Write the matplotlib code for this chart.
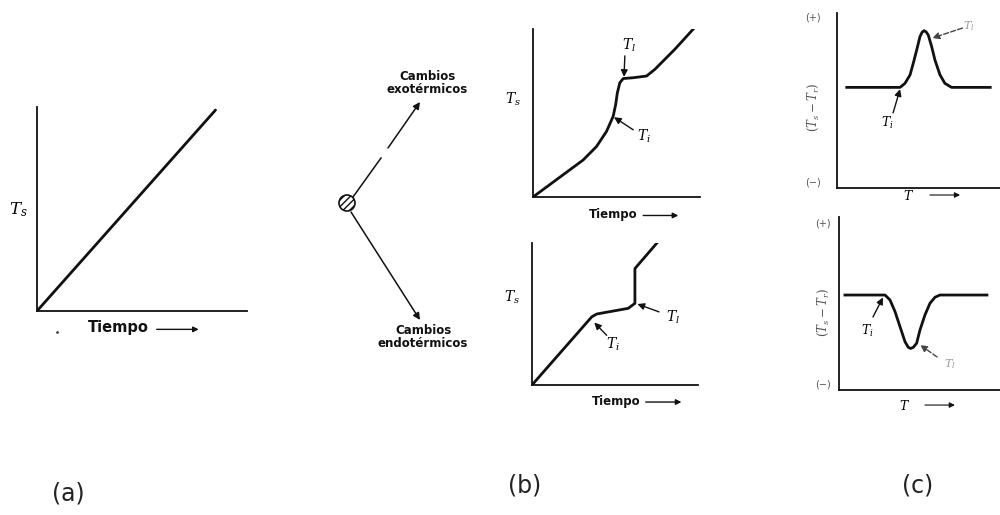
import matplotlib
matplotlib.use("Agg")
import matplotlib.pyplot as plt
from matplotlib.patches import Circle

plt.rcParams['mathtext.fontset'] = 'dejavuserif'

# ---- data (each panel uses 0-10 units on both axes) ----
# (a) constant heating, no transition
time_a = [0, 8.5]
temp_a = [0, 9.85]

# (b) top: exothermic change
time_b1 = [0, 1.5, 3.0, 3.8, 4.4, 4.8, 4.95, 5.05, 5.2, 5.4, 6.0, 6.8, 7.3, 8.5, 9.6]
temp_b1 = [0, 1.1, 2.2, 3.0, 3.9, 4.8, 5.5, 6.2, 6.8, 7.05, 7.1, 7.2, 7.6, 8.8, 10.0]

# (b) bottom: endothermic change
time_b2 = [0, 3.6, 3.9, 5.8, 6.2, 6.2, 7.6]
temp_b2 = [0, 4.8, 5.0, 5.4, 5.75, 8.2, 10.1]

# (c) top: DTA exothermic peak
temp_c1 = [0.6, 3.87, 4.17, 4.48, 4.68, 4.89, 5.09, 5.22, 5.34, 5.47, 5.60, 5.81, 6.01, 6.32, 6.62, 7.03, 9.4]
dT_c1 = [5.75, 5.75, 5.98, 6.46, 7.13, 7.89, 8.65, 8.9, 8.99, 8.92, 8.74, 8.07, 7.31, 6.46, 5.98, 5.75, 5.75]

# (c) bottom: DTA endothermic dip
temp_c2 = [0.37, 2.86, 3.17, 3.48, 3.79, 4.10, 4.30, 4.45, 4.62, 4.82, 5.03, 5.34, 5.65, 5.96, 6.27, 9.19]
dT_c2 = [5.49, 5.49, 5.20, 4.53, 3.66, 2.79, 2.47, 2.40, 2.47, 2.70, 3.47, 4.34, 5.01, 5.36, 5.49, 5.49]

W, H = 1000, 515
fig = plt.figure(figsize=(10, 5.15), dpi=100)
fig.patch.set_facecolor('white')


def panel(x0, y0, x1, y1):
    # box given in pixels of the picture (y downwards)
    ax = fig.add_axes([x0 / W, (H - y1) / H, (x1 - x0) / W, (y1 - y0) / H])
    ax.set_xlim(0, 10)
    ax.set_ylim(0, 10)
    for s in ['top', 'right']:
        ax.spines[s].set_visible(False)
    for s in ['left', 'bottom']:
        ax.spines[s].set_linewidth(1.3)
        ax.spines[s].set_color('#111111')
    ax.set_xticks([])
    ax.set_yticks([])
    ax.patch.set_alpha(0)
    return ax


def axis_arrow(ax, x0, x1, y, lw=1.0):
    ax.annotate('', xy=(x1, y), xytext=(x0, y), annotation_clip=False,
                arrowprops=dict(arrowstyle='-|>', lw=lw, color='#111111',
                                mutation_scale=8, shrinkA=0, shrinkB=0))


def pointer(ax, start, end, ls='-', color='#111111'):
    ax.annotate('', xy=end, xytext=start, annotation_clip=False,
                arrowprops=dict(arrowstyle='-|>', lw=1.0, color=color, ls=ls,
                                mutation_scale=10, shrinkA=0, shrinkB=0))


bold = dict(fontfamily='DejaVu Sans', fontweight='bold', color='#111111')

# ---- (a) ----
ax_a = panel(37, 107, 247, 311)
ax_a.plot(time_a, temp_a, color='#111111', lw=2.0, solid_capstyle='round')
ax_a.text(-0.9, 4.95, r'$T_s$', fontsize=12, ha='center', va='center', clip_on=False)
ax_a.text(3.86, -0.8, 'Tiempo', fontsize=10.5, ha='center', va='center', clip_on=False, **bold)
axis_arrow(ax_a, 5.7, 7.7, -0.9)

# ---- (b) top ----
ax_b1 = panel(533, 29, 700, 197)
ax_b1.plot(time_b1, temp_b1, color='#111111', lw=2.0)
ax_b1.text(-1.2, 5.8, r'$T_s$', fontsize=10, ha='center', va='center', clip_on=False)
ax_b1.text(5.75, 9.0, r'$T_l$', fontsize=10, ha='center', va='center', clip_on=False)
pointer(ax_b1, (5.5, 8.4), (5.45, 7.15))
ax_b1.text(6.65, 3.6, r'$T_i$', fontsize=10, ha='center', va='center', clip_on=False)
pointer(ax_b1, (6.0, 4.0), (4.85, 4.75))
ax_b1.text(4.8, -1.05, 'Tiempo', fontsize=8.5, ha='center', va='center', clip_on=False, **bold)
axis_arrow(ax_b1, 6.6, 8.7, -1.1)

# ---- (b) bottom ----
ax_b2 = panel(532, 243, 698, 385)
ax_b2.plot(time_b2, temp_b2, color='#111111', lw=2.0)
ax_b2.text(-1.2, 6.2, r'$T_s$', fontsize=10, ha='center', va='center', clip_on=False)
ax_b2.text(8.5, 4.8, r'$T_l$', fontsize=10, ha='center', va='center', clip_on=False)
pointer(ax_b2, (7.65, 5.15), (6.35, 5.7))
ax_b2.text(4.9, 2.9, r'$T_i$', fontsize=10, ha='center', va='center', clip_on=False)
pointer(ax_b2, (4.5, 3.5), (3.75, 4.4))
ax_b2.text(5.1, -1.15, 'Tiempo', fontsize=8.5, ha='center', va='center', clip_on=False, **bold)
axis_arrow(ax_b2, 6.85, 9.0, -1.2)

# ---- (c) top ----
grey = '#555555'
ax_c1 = panel(837, 13, 1000, 188)
ax_c1.plot(temp_c1, dT_c1, color='#111111', lw=2.0)
ax_c1.text(-1.47, 9.77, '(+)', fontsize=7, color=grey, ha='center', va='center', clip_on=False)
ax_c1.text(-1.47, 0.34, '(\u2212)', fontsize=7, color=grey, ha='center', va='center', clip_on=False)
ax_c1.text(-1.47, 4.6, r'$(T_s - T_r)$', fontsize=8.5, color=grey, rotation=90,
           ha='center', va='center', clip_on=False)
ax_c1.text(3.07, 3.7, r'$T_i$', fontsize=9, ha='center', va='center', clip_on=False)
pointer(ax_c1, (3.44, 4.29), (3.87, 5.65))
ax_c1.text(8.1, 9.25, r'$T_l$', fontsize=8, color='#999999', ha='center', va='center', clip_on=False)
pointer(ax_c1, (7.7, 9.14), (5.85, 8.57), ls='--', color='#444444')
ax_c1.text(4.36, -0.45, r'$T$', fontsize=9, ha='center', va='center', clip_on=False)
axis_arrow(ax_c1, 5.7, 7.55, -0.4, lw=0.8)

# ---- (c) bottom ----
ax_c2 = panel(839, 217, 1000, 390)
ax_c2.plot(temp_c2, dT_c2, color='#111111', lw=2.0)
ax_c2.text(-0.99, 9.6, '(+)', fontsize=7, color=grey, ha='center', va='center', clip_on=False)
ax_c2.text(-0.99, 0.29, '(\u2212)', fontsize=7, color=grey, ha='center', va='center', clip_on=False)
ax_c2.text(-0.99, 4.5, r'$(T_s - T_r)$', fontsize=8.5, color=grey, rotation=90,
           ha='center', va='center', clip_on=False)
ax_c2.text(1.74, 3.4, r'$T_i$', fontsize=9, ha='center', va='center', clip_on=False)
pointer(ax_c2, (2.11, 4.22), (2.73, 5.35))
ax_c2.text(6.9, 1.5, r'$T_l$', fontsize=8, color='#999999', ha='center', va='center', clip_on=False)
pointer(ax_c2, (6.09, 1.91), (5.05, 2.6), ls='--', color='#444444')
ax_c2.text(4.1, -0.9, r'$T$', fontsize=9, ha='center', va='center', clip_on=False)
axis_arrow(ax_c2, 5.34, 7.2, -0.87, lw=0.8)

# ---- overlay: branching sketch and panel letters (pixel units) ----
ov = fig.add_axes([0, 0, 1, 1])
ov.set_xlim(0, W)
ov.set_ylim(H, 0)
ov.axis('off')
ov.patch.set_alpha(0)

ov.add_patch(Circle((347, 203), 8, facecolor='white', edgecolor='#111111',
                    hatch='/////', lw=1.2, zorder=3))
ov.plot([353, 381], [197, 158], color='#111111', lw=1.1)
ov.annotate('', xy=(420, 102), xytext=(388, 148),
            arrowprops=dict(arrowstyle='-|>', lw=1.1, color='#111111',
                            mutation_scale=10, shrinkA=0, shrinkB=0))
ov.annotate('', xy=(420, 320), xytext=(351, 212),
            arrowprops=dict(arrowstyle='-|>', lw=1.1, color='#111111',
                            mutation_scale=10, shrinkA=0, shrinkB=0))
ov.text(427, 83, 'Cambios\nexot\u00e9rmicos', fontsize=8.5, ha='center', va='center',
        linespacing=1.05, **bold)
ov.text(423, 337, 'Cambios\nendot\u00e9rmicos', fontsize=8.5, ha='center', va='center',
        linespacing=1.05, **bold)
ov.plot([57], [332], marker='.', color='#444444', markersize=2)

for lab, x, y in [('(a)', 68, 493), ('(b)', 525, 485), ('(c)', 918, 485)]:
    ov.text(x, y, lab, fontsize=17, ha='center', va='center', color='#222222',
            fontfamily='DejaVu Sans')

fig.savefig('out.png', dpi=100, facecolor='white')
